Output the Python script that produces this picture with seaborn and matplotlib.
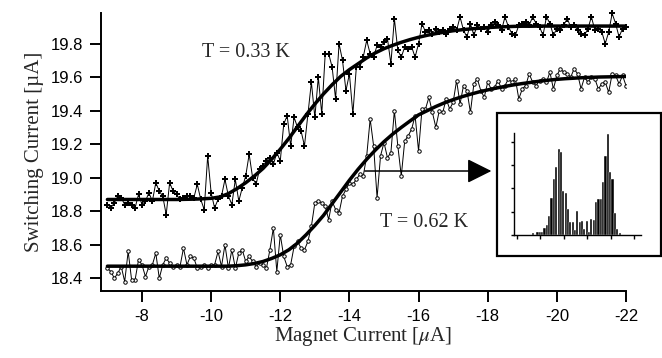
import numpy as np
import matplotlib
matplotlib.use("Agg")
import matplotlib.pyplot as plt
from matplotlib.patches import Rectangle
import seaborn as sns

# magnet current sweep (uA), 0.1 uA steps
magnet_current = np.linspace(-7.0, -22.0, 151)

# switching current at T = 0.33 K
sw_033 = [
    18.84, 18.82, 18.85, 18.89, 18.88, 18.84, 18.85, 18.84, 18.82, 18.90,
    18.84, 18.86, 18.91, 18.86, 18.97, 18.92, 18.89, 18.78, 18.97, 18.92,
    18.90, 18.87, 18.88, 18.89, 18.89, 18.88, 18.96, 18.87, 18.81, 19.13,
    18.91, 18.82, 18.87, 18.89, 18.99, 18.89, 18.84, 18.99, 18.86, 18.94,
    19.01, 19.14, 19.00, 18.96, 19.05, 19.07, 19.10, 19.12, 19.08, 19.15,
    19.10, 19.32, 19.37, 19.19, 19.36, 19.30, 19.28, 19.19, 19.38, 19.57,
    19.36, 19.60, 19.38, 19.74, 19.74, 19.66, 19.47, 19.80, 19.70, 19.52,
    19.62, 19.38, 19.66, 19.66, 19.72, 19.82, 19.74, 19.72, 19.79, 19.78,
    19.81, 19.83, 19.68, 19.95, 19.76, 19.72, 19.78, 19.77, 19.78, 19.72,
    19.80, 19.92, 19.87, 19.88, 19.86, 19.89, 19.87, 19.88, 19.86, 19.89,
    19.90, 19.88, 19.96, 19.88, 19.84, 19.92, 19.85, 19.91, 19.89, 19.90,
    19.87, 19.91, 19.93, 19.91, 19.88, 19.96, 19.90, 19.86, 19.85, 19.91,
    19.92, 19.93, 19.91, 19.96, 19.92, 19.90, 19.85, 19.96, 19.92, 19.85,
    19.89, 19.88, 19.91, 19.95, 19.90, 19.91, 19.88, 19.86, 19.85, 19.89,
    19.96, 19.88, 19.89, 19.87, 19.80, 19.87, 19.98, 19.92, 19.84, 19.89,
    19.90,
]

# switching current at T = 0.62 K
sw_062 = [
    18.46, 18.44, 18.40, 18.43, 18.47, 18.38, 18.56, 18.39, 18.39, 18.51,
    18.48, 18.41, 18.47, 18.48, 18.55, 18.40, 18.48, 18.52, 18.49, 18.47,
    18.48, 18.47, 18.58, 18.48, 18.53, 18.52, 18.46, 18.47, 18.48, 18.46,
    18.48, 18.48, 18.56, 18.47, 18.60, 18.46, 18.57, 18.46, 18.55, 18.57,
    18.50, 18.53, 18.50, 18.47, 18.49, 18.48, 18.46, 18.57, 18.70, 18.44,
    18.66, 18.53, 18.47, 18.48, 18.59, 18.62, 18.58, 18.57, 18.62, 18.71,
    18.85, 18.86, 18.85, 18.83, 18.75, 18.86, 18.81, 18.79, 18.89, 18.93,
    18.97, 18.96, 18.99, 19.02, 19.01, 19.13, 19.35, 19.19, 18.88, 19.13,
    19.21, 19.12, 19.15, 19.40, 19.19, 19.01, 19.22, 19.25, 19.29, 19.37,
    19.16, 19.41, 19.41, 19.48, 19.39, 19.30, 19.40, 19.39, 19.47, 19.41,
    19.45, 19.58, 19.44, 19.55, 19.52, 19.39, 19.56, 19.59, 19.52, 19.48,
    19.57, 19.53, 19.54, 19.58, 19.53, 19.55, 19.59, 19.57, 19.59, 19.47,
    19.53, 19.55, 19.62, 19.57, 19.55, 19.58, 19.59, 19.57, 19.63, 19.53,
    19.61, 19.65, 19.63, 19.62, 19.60, 19.65, 19.62, 19.53, 19.60, 19.57,
    19.60, 19.59, 19.53, 19.56, 19.57, 19.51, 19.62, 19.61, 19.56, 19.61,
    19.55,
]

# fitted curves, 0.25 uA steps
fit_current = np.linspace(-7.0, -22.0, 61)
fit_033 = [
    18.870, 18.870, 18.870, 18.870, 18.870, 18.870, 18.870, 18.870, 18.870, 18.871,
    18.872, 18.874, 18.877, 18.885, 18.905, 18.935, 18.970, 19.010, 19.055, 19.110,
    19.170, 19.235, 19.305, 19.375, 19.440, 19.500, 19.555, 19.605, 19.645, 19.680,
    19.715, 19.745, 19.770, 19.790, 19.808, 19.824, 19.838, 19.850, 19.860, 19.869,
    19.877, 19.883, 19.888, 19.892, 19.896, 19.899, 19.901, 19.903, 19.904, 19.904,
    19.905, 19.905, 19.905, 19.905, 19.905, 19.905, 19.905, 19.905, 19.905, 19.905,
    19.905,
]
fit_062 = [
    18.472, 18.472, 18.472, 18.472, 18.472, 18.472, 18.472, 18.472, 18.472, 18.472,
    18.472, 18.472, 18.472, 18.472, 18.472, 18.475, 18.480, 18.488, 18.500, 18.518,
    18.540, 18.570, 18.610, 18.660, 18.715, 18.775, 18.845, 18.915, 18.985, 19.050,
    19.110, 19.165, 19.215, 19.260, 19.300, 19.338, 19.375, 19.400, 19.425, 19.447,
    19.466, 19.483, 19.498, 19.512, 19.524, 19.535, 19.545, 19.554, 19.562, 19.569,
    19.576, 19.582, 19.587, 19.591, 19.594, 19.597, 19.599, 19.601, 19.602, 19.603,
    19.604,
]

# inset: histogram of switching events
hist_bins = np.linspace(0.67, 4.37, 38)
hist_counts = [
    0.7, 0.0, 1.4, 1.4, 1.4, 2.9, 4.3, 8.0, 16.0, 24.0,
    29.0, 37.0, 35.5, 19.0, 18.0, 11.0, 5.7, 5.7, 2.3, 10.4,
    5.7, 6.0, 2.6, 6.0, 1.1, 7.0, 6.4, 14.3, 15.4, 15.4,
    22.9, 34.0, 43.3, 27.0, 24.0, 9.3, 2.6, 0.7,
]

sns.set_theme(style="ticks")
plt.rcParams["font.family"] = ["Liberation Sans", "DejaVu Sans"]
plt.rcParams["mathtext.fontset"] = "stix"
plt.rcParams["axes.unicode_minus"] = False

fig = plt.figure(figsize=(6.62, 3.58), dpi=100)
fig.patch.set_facecolor("white")
ax = fig.add_axes([0.1526, 0.1872, 0.7930, 0.7765])
ax.set_facecolor("white")

sns.lineplot(x=magnet_current, y=sw_033, ax=ax, color="black", lw=0.7,
             marker="P", markersize=4.0, markeredgewidth=0, clip_on=False)
sns.lineplot(x=magnet_current, y=sw_062, ax=ax, color="black", lw=0.7,
             marker="o", markersize=2.5, markerfacecolor="white",
             markeredgecolor="black", markeredgewidth=0.7)
sns.lineplot(x=fit_current, y=fit_033, ax=ax, color="black", lw=2.5)
sns.lineplot(x=fit_current, y=fit_062, ax=ax, color="black", lw=2.5)

ax.set_xlim(-6.815, -22.0)
ax.set_ylim(18.324, 19.983)
ax.set_xticks([-8, -10, -12, -14, -16, -18, -20, -22])
ax.set_yticks([18.4, 18.6, 18.8, 19.0, 19.2, 19.4, 19.6, 19.8])
ax.set_yticklabels(["18.4", "18.6", "18.8", "19.0", "19.2", "19.4", "19.6", "19.8"])
sns.despine(ax=ax)
for s in ["left", "bottom"]:
    ax.spines[s].set_linewidth(1.4)
    ax.spines[s].set_color("black")
ax.tick_params(direction="out", length=8, width=1.4, colors="black",
               labelsize=12, pad=5)

serif = ["Liberation Serif", "DejaVu Serif"]
ax.set_xlabel(r"Magnet Current [$\mu$A]", family=serif, fontsize=15, labelpad=1)
ax.set_ylabel("Switching Current [µA]", family=serif, fontsize=15, labelpad=5)

ax.text(-9.73, 19.75, "T = 0.33 K", family=serif, fontsize=14.5,
        ha="left", va="center")
ax.text(-14.88, 18.73, "T = 0.62 K", family=serif, fontsize=14.5,
        ha="left", va="center")

ax.annotate("", xy=(-18.107, 19.04), xytext=(-14.445, 19.04),
            arrowprops=dict(arrowstyle="-|>,head_length=1.5,head_width=0.75",
                            mutation_scale=10, color="black", lw=1.1,
                            shrinkA=0, shrinkB=0))

# inset frame
fig.patches.append(Rectangle((0.7508, 0.2849), 0.2477, 0.3995,
                             transform=fig.transFigure, fill=False,
                             ec="black", lw=1.6))

ins = fig.add_axes([0.7764, 0.3436, 0.1918, 0.2849])
ins.set_facecolor("white")
sns.histplot(x=hist_bins, weights=hist_counts, binwidth=0.1,
             binrange=(0.62, 4.42), shrink=0.9, color="black",
             edgecolor="white", linewidth=0.3, alpha=1, ax=ins)
ins.set_xlim(-0.13, 5.28)
ins.set_ylim(0, 43.8)
ins.set_xticks([0, 1, 2, 3, 4, 5])
ins.set_yticks([0, 10, 20, 30, 40])
ins.set_xticklabels([])
ins.set_yticklabels([])
ins.set_xlabel("")
ins.set_ylabel("")
sns.despine(ax=ins)
for s in ["left", "bottom"]:
    ins.spines[s].set_linewidth(1.0)
    ins.spines[s].set_color("black")
ins.tick_params(axis="x", direction="out", length=3, width=1, colors="black")
ins.tick_params(axis="y", direction="out", length=2, width=1, colors="black")

fig.savefig("out.png", dpi=100)
